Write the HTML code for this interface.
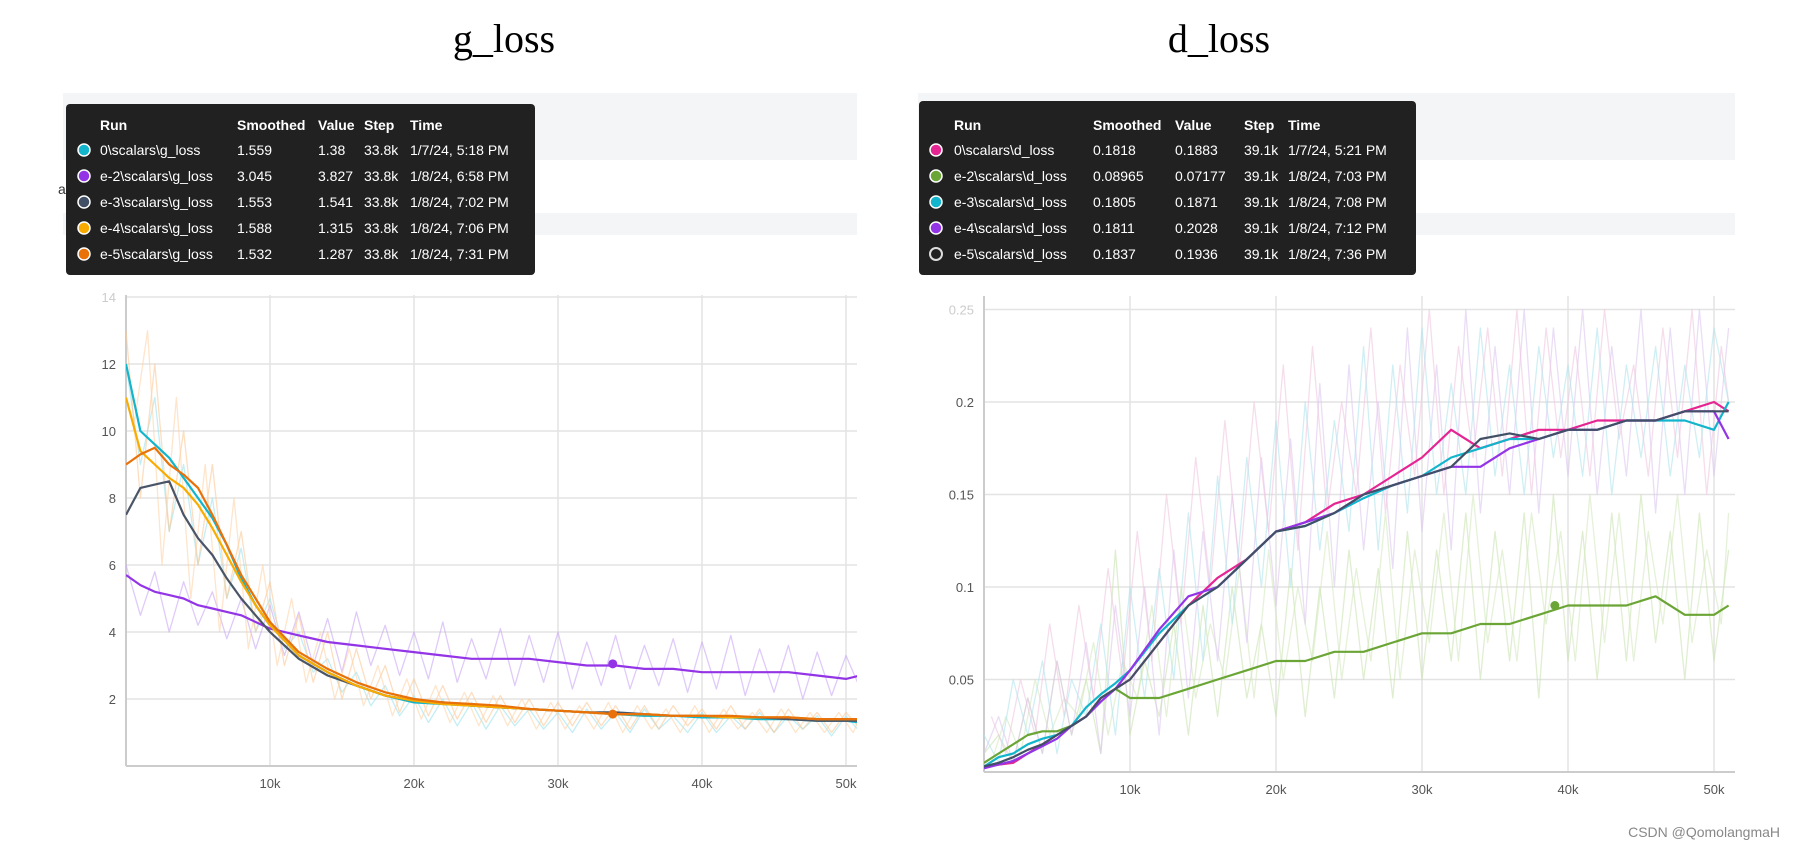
<!DOCTYPE html>
<html><head><meta charset="utf-8">
<style>
html,body{margin:0;padding:0;background:#fff;width:1795px;height:850px;overflow:hidden;font-family:"Liberation Sans",sans-serif;}
svg{display:block}
</style></head>
<body>
<svg id="root" width="1795" height="850" xmlns="http://www.w3.org/2000/svg">
  <text x="504" y="52" font-family="Liberation Serif, serif" font-size="40" text-anchor="middle" fill="#000">g_loss</text>
  <text x="1219" y="52" font-family="Liberation Serif, serif" font-size="40" text-anchor="middle" fill="#000">d_loss</text>
  <rect x="63" y="93" width="794" height="67" fill="#f4f5f6"/>
  <rect x="63" y="213" width="794" height="22" fill="#f4f5f6"/>
  <rect x="918" y="93" width="817" height="67" fill="#f4f5f6"/>
  <rect x="918" y="213" width="817" height="22" fill="#f4f5f6"/>
  <text x="58" y="194" font-size="14" fill="#333">alars</text>
  <g id="gchart"></g>
  <g id="dchart"></g>
  <g id="glegend"></g>
  <g id="dlegend"></g>
  <text x="1780" y="837" font-size="14" fill="#888" text-anchor="end">CSDN @QomolangmaH</text>
</svg>
<script>
const NS="http://www.w3.org/2000/svg";
// ---- shared steps (k) ----
const steps=[0,1,2,3,4,5,6,7,8,9,10,12,14,16,18,20,22,24,26,28,30,32,34,36,38,40,42,44,46,48,50,51];
const rawSteps=[0,1,2,3,4,5,6,7,8,9,10,11,12,13,14,15,16,17,18,19,20,21,22,23,24,25,26,27,28,29,30,31,32,33,34,35,36,37,38,39,40,41,42,43,44,45,46,47,48,49,50,51];
const rawSteps2=[0.5,1.5,2.5,3.5,4.5,5.5,6.5,7.5,8.5,9.5,10.5,11.5,12.5,13.5,14.5,15.5,16.5,17.5,18.5,19.5,20.5,21.5,22.5,23.5,24.5,25.5,26.5,27.5,28.5,29.5,30.5,31.5,32.5,33.5,34.5,35.5,36.5,37.5,38.5,39.5,40.5,41.5,42.5,43.5,44.5,45.5,46.5,47.5,48.5,49.5,50.5,51];
// ---- g_loss ----
const gCyan=[12,10,9.6,9.2,8.6,8.0,7.4,6.6,5.6,4.8,4.2,3.3,2.8,2.4,2.1,1.9,1.85,1.8,1.75,1.7,1.65,1.6,1.55,1.5,1.5,1.45,1.45,1.4,1.4,1.35,1.35,1.3];
const gPurple=[5.7,5.4,5.2,5.1,5.0,4.8,4.7,4.6,4.5,4.3,4.1,3.9,3.7,3.6,3.5,3.4,3.3,3.2,3.2,3.2,3.1,3.0,3.0,2.9,2.9,2.8,2.8,2.8,2.8,2.7,2.6,2.7];
const gDark=[7.5,8.3,8.4,8.5,7.5,6.8,6.3,5.6,5.0,4.5,4.0,3.2,2.7,2.4,2.1,1.95,1.9,1.8,1.75,1.7,1.65,1.6,1.6,1.55,1.5,1.5,1.45,1.45,1.4,1.35,1.35,1.35];
const gYellow=[11,9.4,9.0,8.6,8.3,7.8,7.1,6.3,5.5,4.8,4.2,3.3,2.8,2.4,2.1,1.95,1.85,1.8,1.75,1.7,1.65,1.6,1.55,1.55,1.5,1.5,1.45,1.45,1.45,1.4,1.4,1.4];
const gOrange=[9,9.3,9.5,9.0,8.7,8.3,7.5,6.6,5.7,5.0,4.3,3.4,2.9,2.5,2.2,2.0,1.9,1.85,1.8,1.7,1.65,1.6,1.55,1.55,1.5,1.5,1.5,1.45,1.45,1.4,1.4,1.4];
const gRawPeach=[13,8,12,7,10,6,9,5,7,4,5.5,3,4.5,2.5,4,2,3.5,2,3,1.6,2.6,1.5,2.4,1.4,2.2,1.3,2.1,1.3,2,1.2,1.9,1.2,1.9,1.2,1.8,1.1,1.8,1.1,1.8,1.2,1.7,1.1,1.8,1.1,1.7,1.0,1.7,1.1,1.6,1.0,1.6,1.1];
const gRawPeach2=[10,13,6,11,5,9,4,8,3.5,6,3,5,2.5,4,2,3.5,1.8,3,1.5,2.6,1.4,2.4,1.3,2.2,1.2,2.1,1.2,2,1.1,1.9,1.1,1.8,1.1,1.9,1.0,1.8,1.1,1.7,1.0,1.8,1.0,1.7,1.1,1.6,1.0,1.7,1.0,1.6,1.0,1.6,1.0,1.5];
const gRawPurple=[6,4.5,5.8,4,5.5,4.2,5.2,3.8,5,3.5,4.8,3.3,4.6,3,4.4,2.8,4.6,3,4.2,2.7,4,2.6,4.3,2.5,3.8,2.6,4.1,2.4,3.9,2.5,4,2.3,3.7,2.4,3.9,2.3,3.6,2.4,3.8,2.2,3.7,2.3,3.9,2.1,3.5,2.2,3.6,2.0,3.4,2.1,3.3,2.3];
const gRawCyan=[12,9,11,7,9,6,8,5,6.5,4,5,3.5,4,2.8,3.2,2.2,2.8,1.8,2.4,1.5,2.1,1.3,2,1.2,1.9,1.1,1.8,1.2,1.7,1.1,1.6,1.0,1.7,1.1,1.6,1.0,1.7,1.1,1.5,1.0,1.6,1.0,1.5,1.1,1.6,1.0,1.5,1.1,1.5,0.9,1.5,1.0];
const gYTicks=[2,4,6,8,10,12,14];
const xTicks=[10,20,30,40,50];
// ---- d_loss ----
const dPink=[0.003,0.004,0.005,0.01,0.015,0.02,0.025,0.03,0.04,0.045,0.05,0.07,0.09,0.105,0.115,0.13,0.135,0.145,0.15,0.16,0.17,0.185,0.175,0.18,0.185,0.185,0.19,0.19,0.19,0.195,0.2,0.195];
const dGreen=[0.005,0.01,0.015,0.02,0.022,0.022,0.025,0.03,0.04,0.045,0.04,0.04,0.045,0.05,0.055,0.06,0.06,0.065,0.065,0.07,0.075,0.075,0.08,0.08,0.085,0.09,0.09,0.09,0.095,0.085,0.085,0.09];
const dCyan=[0.003,0.008,0.01,0.015,0.018,0.02,0.025,0.035,0.042,0.048,0.055,0.075,0.09,0.1,0.115,0.13,0.133,0.14,0.148,0.155,0.16,0.17,0.175,0.18,0.18,0.185,0.185,0.19,0.19,0.19,0.185,0.2];
const dPurple=[0.002,0.004,0.006,0.01,0.014,0.018,0.025,0.03,0.038,0.045,0.055,0.077,0.095,0.1,0.115,0.13,0.135,0.14,0.15,0.155,0.16,0.165,0.165,0.175,0.18,0.185,0.185,0.19,0.19,0.195,0.195,0.18];
const dDark=[0.003,0.005,0.008,0.012,0.015,0.02,0.025,0.03,0.04,0.045,0.05,0.07,0.09,0.1,0.115,0.13,0.133,0.14,0.15,0.155,0.16,0.165,0.18,0.183,0.18,0.185,0.185,0.19,0.19,0.195,0.195,0.195];
const dRawLav=[0.01,0.03,0.005,0.04,0.01,0.06,0.02,0.07,0.01,0.09,0.03,0.1,0.02,0.12,0.04,0.13,0.06,0.15,0.07,0.17,0.09,0.18,0.08,0.21,0.1,0.22,0.12,0.2,0.11,0.24,0.13,0.22,0.12,0.25,0.14,0.23,0.15,0.25,0.14,0.24,0.16,0.25,0.15,0.23,0.16,0.25,0.14,0.24,0.15,0.25,0.16,0.24];
const dRawLav2=[0.03,0.01,0.05,0.02,0.08,0.03,0.09,0.04,0.11,0.05,0.13,0.06,0.15,0.08,0.17,0.1,0.19,0.11,0.2,0.13,0.22,0.12,0.23,0.14,0.2,0.15,0.24,0.14,0.22,0.16,0.25,0.15,0.23,0.17,0.24,0.16,0.25,0.15,0.24,0.17,0.23,0.16,0.25,0.18,0.22,0.16,0.24,0.17,0.25,0.15,0.23,0.2];
const dRawCyan=[0.02,0.005,0.05,0.02,0.06,0.01,0.05,0.03,0.08,0.02,0.1,0.04,0.11,0.05,0.14,0.06,0.16,0.08,0.17,0.1,0.19,0.1,0.2,0.12,0.19,0.13,0.23,0.12,0.22,0.14,0.24,0.15,0.21,0.15,0.24,0.16,0.22,0.15,0.23,0.17,0.22,0.16,0.24,0.15,0.22,0.17,0.23,0.16,0.22,0.17,0.24,0.2];
const dRawGreen=[0.01,0.02,0.005,0.04,0.01,0.06,0.02,0.05,0.01,0.12,0.02,0.06,0.03,0.08,0.02,0.09,0.03,0.1,0.04,0.08,0.03,0.11,0.03,0.1,0.04,0.12,0.05,0.11,0.04,0.13,0.05,0.12,0.06,0.14,0.05,0.13,0.06,0.14,0.04,0.15,0.06,0.13,0.05,0.14,0.06,0.15,0.07,0.13,0.05,0.14,0.06,0.12];
const dRawGreen2=[0.005,0.03,0.01,0.05,0.02,0.04,0.03,0.07,0.02,0.06,0.04,0.09,0.03,0.1,0.04,0.08,0.05,0.11,0.04,0.12,0.05,0.1,0.06,0.13,0.05,0.11,0.06,0.14,0.05,0.12,0.07,0.14,0.06,0.15,0.07,0.12,0.06,0.14,0.08,0.13,0.06,0.15,0.07,0.14,0.06,0.13,0.08,0.15,0.07,0.12,0.08,0.14];
const dYTicks=[0.05,0.1,0.15,0.2,0.25];

function mk(tag,attrs,parent){const e=document.createElementNS(NS,tag);for(const k in attrs)e.setAttribute(k,attrs[k]);parent.appendChild(e);return e;}

function chart(g,cfg){
  const X=v=>cfg.x0+(v-0)*(cfg.x10-cfg.x0)/10;
  const Y=v=>cfg.yZero-(v-cfg.yMin)*cfg.yPer;
  const top=cfg.top,bot=cfg.bot,left=cfg.left,right=cfg.right;
  cfg.yTicks.forEach((t,i)=>{
    const l=mk('line',{x1:left,x2:right,y1:Y(t),y2:Y(t),stroke:'#e3e3e3','stroke-width':1.5},g);
    
    
    const tx=mk('text',{x:left-10,y:Y(t)+5,'font-size':13,fill:(i===cfg.yTicks.length-1&&cfg.fadeTop)?'#ccc':'#555','text-anchor':'end'},g);
    tx.textContent=cfg.fmt(t);
    
    
  });
  xTicks.forEach(t=>{
    const l=mk('line',{x1:X(t),x2:X(t),y1:top,y2:bot,stroke:'#e3e3e3','stroke-width':1.5},g);
    
    
    const tx=mk('text',{x:X(t),y:bot+22,'font-size':13,fill:'#555','text-anchor':'middle'},g);
    tx.textContent=t+'k';
    
    
  });
  const ax=mk('line',{x1:left,x2:right,y1:bot,y2:bot,stroke:'#ccc','stroke-width':2},g);
  
  
  const ay=mk('line',{x1:left,x2:left,y1:top,y2:bot,stroke:'#ccc','stroke-width':2},g);
  
  
  const clipId=cfg.id+'clip';
  const cp=mk('clipPath',{id:clipId},g);mk('rect',{x:left,y:top-40,width:right-left,height:bot-top+40},cp);
  const sg=mk('g',{'clip-path':'url(#'+clipId+')'},g);
  const draw=(xs,ys,color,w,op,name)=>{
    const d=ys.map((v,i)=>(i?'L':'M')+X(xs[i]).toFixed(1)+','+Y(v).toFixed(1)).join(' ');
    const p=mk('path',{d:d,fill:'none',stroke:color,'stroke-width':w,opacity:op,'stroke-linejoin':'round'},sg);
    
    
  };
  cfg.raw.forEach(r=>draw(r[3]||rawSteps,r[0],r[1],1.3,0.6,r[2]));
  cfg.smooth.forEach(s=>draw(steps,s[0],s[1],2.2,1,s[2]));
  cfg.dots.forEach(dt=>{
    const c=mk('circle',{cx:X(dt[0]),cy:Y(dt[1]),r:4.5,fill:dt[2]},sg);
    
    
  });
}

chart(document.getElementById('gchart'),{id:'g',x0:126,x10:270,yZero:766,yMin:0,yPer:33.5,top:295,bot:766,left:126,right:857,
  yTicks:gYTicks,fmt:v=>String(v),fadeTop:true,
  raw:[[gRawPurple,'#c9a6f5','raw-e-2'],[gRawCyan,'#9be3ee','raw-0'],[gRawPeach,'#fcc896','raw-e-4'],[gRawPeach2,'#fdd3a8','raw-e-5',rawSteps2]],
  smooth:[[gPurple,'#9334e6','smoothed-e-2'],[gCyan,'#12b5cb','smoothed-0'],[gDark,'#4a5568','smoothed-e-3'],[gYellow,'#f9ab00','smoothed-e-4'],[gOrange,'#e8710a','smoothed-e-5']],
  dots:[[33.8,3.05,'#9334e6'],[33.8,1.55,'#e8710a']]});

chart(document.getElementById('dchart'),{id:'d',x0:984,x10:1130,yZero:772,yMin:0,yPer:1850,top:296,bot:772,left:984,right:1735,
  yTicks:dYTicks,fmt:v=>String(v),fadeTop:true,
  raw:[[dRawGreen,'#c9e3b0','raw-e-2'],[dRawGreen2,'#d3e8be','raw-e-2b',rawSteps2],[dRawLav,'#dcc6f0','raw-0-e-4'],[dRawLav2,'#f0c6e0','raw-0b',rawSteps2],[dRawCyan,'#b0e4ec','raw-e-3']],
  smooth:[[dGreen,'#6aa535','smoothed-e-2'],[dPink,'#e52592','smoothed-0'],[dCyan,'#12b5cb','smoothed-e-3'],[dPurple,'#9334e6','smoothed-e-4'],[dDark,'#425066','smoothed-e-5']],
  dots:[[39.1,0.09,'#6aa535']]});

function legend(g,cfg){
  const bg=mk('rect',{x:cfg.x,y:cfg.y,width:cfg.w,height:cfg.h,rx:4,fill:'#212121'},g);
  
  
  const rowsY=[125,150,176,202,228,254];
  const hdr=['Run','Smoothed','Value','Step','Time'];
  hdr.forEach((h,i)=>{
    const t=mk('text',{x:cfg.cols[i],y:rowsY[0]+5,'font-size':14,'font-weight':'bold',fill:'#fff'},g);
    t.textContent=h;
    
    
  });
  cfg.rows.forEach((r,ri)=>{
    const y=rowsY[ri+1];
    const c=mk('circle',{cx:cfg.dotX,cy:y,r:6,fill:r[0],stroke:r[5]?'#ddd':'#fff','stroke-width':r[5]?2:1.5},g);
    
    
    const parts=[r[1],r[2],r[3],cfg.step,r[4]];
    parts.forEach((p,i)=>{
      const t=mk('text',{x:cfg.cols[i],y:y+5,'font-size':14,fill:'#fff'},g);
      t.textContent=p;
      
      
    });
  });
}
legend(document.getElementById('glegend'),{x:66,y:104,w:469,h:171,dotX:84,cols:[100,237,318,364,410],step:'33.8k',
  rows:[['#12b5cb','0\\scalars\\g_loss','1.559','1.38','1/7/24, 5:18 PM'],
        ['#9334e6','e-2\\scalars\\g_loss','3.045','3.827','1/8/24, 6:58 PM'],
        ['#425066','e-3\\scalars\\g_loss','1.553','1.541','1/8/24, 7:02 PM'],
        ['#f9ab00','e-4\\scalars\\g_loss','1.588','1.315','1/8/24, 7:06 PM'],
        ['#e8710a','e-5\\scalars\\g_loss','1.532','1.287','1/8/24, 7:31 PM']]});
legend(document.getElementById('dlegend'),{x:919,y:101,w:497,h:174,dotX:936,cols:[954,1093,1175,1244,1288],step:'39.1k',
  rows:[['#e52592','0\\scalars\\d_loss','0.1818','0.1883','1/7/24, 5:21 PM'],
        ['#6aa535','e-2\\scalars\\d_loss','0.08965','0.07177','1/8/24, 7:03 PM'],
        ['#12b5cb','e-3\\scalars\\d_loss','0.1805','0.1871','1/8/24, 7:08 PM'],
        ['#9334e6','e-4\\scalars\\d_loss','0.1811','0.2028','1/8/24, 7:12 PM'],
        ['#212121','e-5\\scalars\\d_loss','0.1837','0.1936','1/8/24, 7:36 PM',true]]});
</script>
</body></html>
